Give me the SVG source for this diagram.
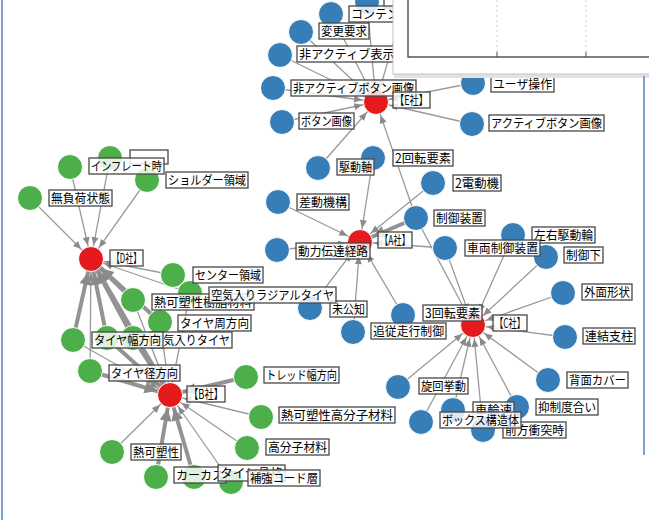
<svg xmlns="http://www.w3.org/2000/svg" width="649" height="520" viewBox="0 0 649 520">
<defs>
<style>
.e{stroke:#9a9a9a;stroke-width:1.3;fill:none;marker-end:url(#ah)}
.t{stroke:#939393;stroke-width:4;fill:none;marker-end:url(#aht)}
.b{fill:#377eb8;stroke:#fff;stroke-width:1}
.g{fill:#4daf4a;stroke:#fff;stroke-width:1}
.r{fill:#e41a1c;stroke:#fff;stroke-width:1}
.lb rect{fill:#fff;fill-opacity:0.82;stroke:#484848;stroke-width:1.3}
.lb text{font-family:"Noto Sans CJK JP","Noto Sans CJK SC",sans-serif;font-size:12.5px;fill:#000}
</style>
<marker id="ah" markerUnits="userSpaceOnUse" viewBox="0 -5 26 10" markerWidth="26" markerHeight="10" refX="26" refY="0" orient="auto"><path d="M4,-3.5 L12,0 L4,3.5 Z" fill="#8a8a8a"/></marker>
<marker id="aht" markerUnits="userSpaceOnUse" viewBox="0 -7 28 14" markerWidth="28" markerHeight="14" refX="28" refY="0" orient="auto"><path d="M2,-6 L14,0 L2,6 Z" fill="#8a8a8a"/></marker>
</defs>
<rect width="649" height="520" fill="#fff"/>
<g id="connectors">
<line class="e" x1="331" y1="14" x2="376" y2="102"/>
<line class="e" x1="367" y1="2" x2="376" y2="102"/>
<line class="e" x1="400" y1="20" x2="376" y2="102"/>
<line class="e" x1="301" y1="32" x2="376" y2="102"/>
<line class="e" x1="280" y1="55" x2="376" y2="102"/>
<line class="e" x1="273" y1="88" x2="376" y2="102"/>
<line class="e" x1="282" y1="122" x2="376" y2="102"/>
<line class="e" x1="473" y1="83" x2="376" y2="102"/>
<line class="e" x1="472" y1="124" x2="376" y2="102"/>
<line class="e" x1="318" y1="168" x2="376" y2="102"/>
<line class="e" x1="416" y1="218" x2="376" y2="102"/>
<line class="e" x1="373" y1="158" x2="360" y2="242"/>
<line class="e" x1="278" y1="202" x2="360" y2="242"/>
<line class="e" x1="433" y1="183" x2="360" y2="242"/>
<line class="t" x1="416" y1="218" x2="360" y2="242"/>
<line class="e" x1="277" y1="250" x2="360" y2="242"/>
<line class="e" x1="445" y1="248" x2="360" y2="242"/>
<line class="e" x1="310" y1="308" x2="360" y2="242"/>
<line class="e" x1="353" y1="332" x2="360" y2="242"/>
<line class="e" x1="403" y1="315" x2="360" y2="242"/>
<line class="e" x1="416" y1="218" x2="473" y2="325"/>
<line class="e" x1="445" y1="248" x2="473" y2="325"/>
<line class="e" x1="513" y1="235" x2="473" y2="325"/>
<line class="e" x1="546" y1="257" x2="473" y2="325"/>
<line class="e" x1="563" y1="293" x2="473" y2="325"/>
<line class="e" x1="565" y1="337" x2="473" y2="325"/>
<line class="e" x1="398" y1="387" x2="473" y2="325"/>
<line class="e" x1="421" y1="422" x2="473" y2="325"/>
<line class="e" x1="453" y1="410" x2="473" y2="325"/>
<line class="e" x1="483" y1="430" x2="473" y2="325"/>
<line class="e" x1="517" y1="407" x2="473" y2="325"/>
<line class="e" x1="548" y1="380" x2="473" y2="325"/>
<line class="e" x1="30" y1="198" x2="91" y2="259"/>
<line class="e" x1="70" y1="167" x2="91" y2="259"/>
<line class="e" x1="110" y1="158" x2="91" y2="259"/>
<line class="e" x1="147" y1="180" x2="91" y2="259"/>
<line class="e" x1="173" y1="275" x2="91" y2="259"/>
<line class="e" x1="90" y1="371" x2="91" y2="259"/>
<line class="e" x1="190" y1="293" x2="91" y2="259"/>
<line class="t" x1="73" y1="340" x2="91" y2="259"/>
<line class="t" x1="107" y1="338" x2="91" y2="259"/>
<line class="t" x1="133" y1="338" x2="91" y2="259"/>
<line class="t" x1="160" y1="322" x2="91" y2="259"/>
<line class="t" x1="133" y1="300" x2="91" y2="259"/>
<line class="t" x1="170" y1="395" x2="91" y2="259"/>
<line class="e" x1="190" y1="293" x2="170" y2="395"/>
<line class="e" x1="133" y1="300" x2="170" y2="395"/>
<line class="e" x1="160" y1="322" x2="170" y2="395"/>
<line class="e" x1="73" y1="340" x2="170" y2="395"/>
<line class="e" x1="261" y1="417" x2="170" y2="395"/>
<line class="e" x1="247" y1="448" x2="170" y2="395"/>
<line class="e" x1="112" y1="452" x2="170" y2="395"/>
<line class="e" x1="231" y1="482" x2="170" y2="395"/>
<line class="t" x1="107" y1="338" x2="170" y2="395"/>
<line class="t" x1="133" y1="338" x2="170" y2="395"/>
<line class="t" x1="90" y1="371" x2="170" y2="395"/>
<line class="t" x1="246" y1="377" x2="170" y2="395"/>
<line class="t" x1="156" y1="477" x2="170" y2="395"/>
<line class="t" x1="194" y1="477" x2="170" y2="395"/>
</g>
<g id="nodes">
<g id="hub-E"><circle class="r" cx="376" cy="102" r="12.5"/></g>
<g id="hub-A"><circle class="r" cx="360" cy="242" r="12.5"/></g>
<g id="hub-C"><circle class="r" cx="473" cy="325" r="12.5"/></g>
<g id="hub-D"><circle class="r" cx="91" cy="259" r="12.5"/></g>
<g id="hub-B"><circle class="r" cx="170" cy="395" r="12.5"/></g>
<g id="n-top"><circle class="b" cx="367" cy="2" r="12.5"/></g>
<g id="n-content"><circle class="b" cx="331" cy="14" r="12.5"/></g>
<g id="n-henkou"><circle class="b" cx="301" cy="32" r="12.5"/></g>
<g id="n-hiactive-hyouji"><circle class="b" cx="280" cy="55" r="12.5"/></g>
<g id="n-hiactive-button"><circle class="b" cx="273" cy="88" r="12.5"/></g>
<g id="n-button"><circle class="b" cx="282" cy="122" r="12.5"/></g>
<g id="n-user"><circle class="b" cx="473" cy="83" r="12.5"/></g>
<g id="n-active-button"><circle class="b" cx="472" cy="124" r="12.5"/></g>
<g id="n-2kaiten"><circle class="b" cx="373" cy="158" r="12.5"/></g>
<g id="n-kudoujiku"><circle class="b" cx="318" cy="168" r="12.5"/></g>
<g id="n-2dendouki"><circle class="b" cx="433" cy="183" r="12.5"/></g>
<g id="n-sadou"><circle class="b" cx="278" cy="202" r="12.5"/></g>
<g id="n-seigyo-souchi"><circle class="b" cx="416" cy="218" r="12.5"/></g>
<g id="n-douryoku"><circle class="b" cx="277" cy="250" r="12.5"/></g>
<g id="n-sharyou"><circle class="b" cx="445" cy="248" r="12.5"/></g>
<g id="n-sayuu"><circle class="b" cx="513" cy="235" r="12.5"/></g>
<g id="n-seigyoka"><circle class="b" cx="546" cy="257" r="12.5"/></g>
<g id="n-gaimen"><circle class="b" cx="563" cy="293" r="12.5"/></g>
<g id="n-renketsu"><circle class="b" cx="565" cy="337" r="12.5"/></g>
<g id="n-mikouchi"><circle class="b" cx="310" cy="308" r="12.5"/></g>
<g id="n-3kaiten"><circle class="b" cx="403" cy="315" r="12.5"/></g>
<g id="n-tsuijuu"><circle class="b" cx="353" cy="332" r="12.5"/></g>
<g id="n-senkai"><circle class="b" cx="398" cy="387" r="12.5"/></g>
<g id="n-zenpou"><circle class="b" cx="483" cy="430" r="12.5"/></g>
<g id="n-sharinsoku"><circle class="b" cx="453" cy="410" r="12.5"/></g>
<g id="n-box"><circle class="b" cx="421" cy="422" r="12.5"/></g>
<g id="n-yokusei"><circle class="b" cx="517" cy="407" r="12.5"/></g>
<g id="n-haimen"><circle class="b" cx="548" cy="380" r="12.5"/></g>
<g id="n-mufuka"><circle class="g" cx="30" cy="198" r="12.5"/></g>
<g id="n-d-hidden"><circle class="g" cx="110" cy="158" r="12.5"/></g>
<g id="n-shoulder"><circle class="g" cx="147" cy="180" r="12.5"/></g>
<g id="n-inflate"><circle class="g" cx="70" cy="167" r="12.5"/></g>
<g id="n-center"><circle class="g" cx="173" cy="275" r="12.5"/></g>
<g id="n-radial"><circle class="g" cx="190" cy="293" r="12.5"/></g>
<g id="n-jushi"><circle class="g" cx="133" cy="300" r="12.5"/></g>
<g id="n-shuu"><circle class="g" cx="160" cy="322" r="12.5"/></g>
<g id="n-g10"><circle class="g" cx="107" cy="338" r="12.5"/></g>
<g id="n-kuuki-tire"><circle class="g" cx="133" cy="338" r="12.5"/></g>
<g id="n-haba"><circle class="g" cx="73" cy="340" r="12.5"/></g>
<g id="n-kei"><circle class="g" cx="90" cy="371" r="12.5"/></g>
<g id="n-tread"><circle class="g" cx="246" cy="377" r="12.5"/></g>
<g id="n-kobunshi-netsu"><circle class="g" cx="261" cy="417" r="12.5"/></g>
<g id="n-kobunshi"><circle class="g" cx="247" cy="448" r="12.5"/></g>
<g id="n-netsukaso"><circle class="g" cx="112" cy="452" r="12.5"/></g>
<g id="n-carcass"><circle class="g" cx="156" cy="477" r="12.5"/></g>
<g id="n-tire-kokkaku"><circle class="g" cx="194" cy="477" r="12.5"/></g>
<g id="n-hokyou"><circle class="g" cx="231" cy="482" r="12.5"/></g>
</g>
<g id="labels" class="lb">
<rect x="384" y="-8" width="50" height="16"/>
<g><rect x="349" y="6" width="64" height="16"/><text x="351" y="18.5" textLength="60" lengthAdjust="spacingAndGlyphs">コンテンツ</text></g>
<g><rect x="319" y="23" width="50" height="16"/><text x="321" y="35.5" textLength="46" lengthAdjust="spacingAndGlyphs">変更要求</text></g>
<g><rect x="297" y="46" width="124" height="16"/><text x="299" y="58.5" textLength="120" lengthAdjust="spacingAndGlyphs">非アクティブ表示領域</text></g>
<g><rect x="291" y="80" width="125" height="16"/><text x="293" y="92.5" textLength="121" lengthAdjust="spacingAndGlyphs">非アクティブボタン画像</text></g>
<g><rect x="299" y="113" width="55" height="16"/><text x="301" y="125.5" textLength="51" lengthAdjust="spacingAndGlyphs">ボタン画像</text></g>
<g><rect x="393" y="92" width="37" height="16"/><text x="395" y="104.5" textLength="33" lengthAdjust="spacingAndGlyphs">【E社】</text></g>
<g><rect x="491" y="76" width="63" height="16"/><text x="493" y="88.5" textLength="59" lengthAdjust="spacingAndGlyphs">ユーザ操作</text></g>
<g><rect x="489" y="115" width="115" height="16"/><text x="491" y="127.5" textLength="111" lengthAdjust="spacingAndGlyphs">アクティブボタン画像</text></g>
<g><rect x="393" y="150" width="60" height="16"/><text x="395" y="162.5" textLength="56" lengthAdjust="spacingAndGlyphs">2回転要素</text></g>
<g><rect x="337" y="159" width="37" height="16"/><text x="339" y="171.5" textLength="33" lengthAdjust="spacingAndGlyphs">駆動軸</text></g>
<g><rect x="453" y="175" width="48" height="16"/><text x="455" y="187.5" textLength="44" lengthAdjust="spacingAndGlyphs">2電動機</text></g>
<g><rect x="297" y="194" width="52" height="16"/><text x="299" y="206.5" textLength="48" lengthAdjust="spacingAndGlyphs">差動機構</text></g>
<g><rect x="434" y="210" width="51" height="16"/><text x="436" y="222.5" textLength="47" lengthAdjust="spacingAndGlyphs">制御装置</text></g>
<g><rect x="378" y="232" width="34" height="16"/><text x="380" y="244.5" textLength="30" lengthAdjust="spacingAndGlyphs">【A社】</text></g>
<g><rect x="296" y="243" width="74" height="16"/><text x="298" y="255.5" textLength="70" lengthAdjust="spacingAndGlyphs">動力伝達経路</text></g>
<g><rect x="532" y="227" width="63" height="16"/><text x="534" y="239.5" textLength="59" lengthAdjust="spacingAndGlyphs">左右駆動輪</text></g>
<g><rect x="564" y="247" width="39" height="16"/><text x="566" y="259.5" textLength="35" lengthAdjust="spacingAndGlyphs">制御下</text></g>
<g><rect x="465" y="240" width="75" height="16"/><text x="467" y="252.5" textLength="71" lengthAdjust="spacingAndGlyphs">車両制御装置</text></g>
<g><rect x="582" y="284" width="50" height="16"/><text x="584" y="296.5" textLength="46" lengthAdjust="spacingAndGlyphs">外面形状</text></g>
<g><rect x="583" y="328" width="52" height="16"/><text x="585" y="340.5" textLength="48" lengthAdjust="spacingAndGlyphs">連結支柱</text></g>
<g><rect x="330" y="301" width="37" height="16"/><text x="332" y="313.5" textLength="33" lengthAdjust="spacingAndGlyphs">未公知</text></g>
<g><rect x="423" y="305" width="59" height="16"/><text x="425" y="317.5" textLength="55" lengthAdjust="spacingAndGlyphs">3回転要素</text></g>
<g><rect x="493" y="315" width="34" height="16"/><text x="495" y="327.5" textLength="30" lengthAdjust="spacingAndGlyphs">【C社】</text></g>
<g><rect x="371" y="323" width="75" height="16"/><text x="373" y="335.5" textLength="71" lengthAdjust="spacingAndGlyphs">追従走行制御</text></g>
<g><rect x="419" y="378" width="49" height="16"/><text x="421" y="390.5" textLength="45" lengthAdjust="spacingAndGlyphs">旋回挙動</text></g>
<g><rect x="503" y="422" width="63" height="16"/><text x="505" y="434.5" textLength="59" lengthAdjust="spacingAndGlyphs">前方衝突時</text></g>
<g><rect x="473" y="402" width="41" height="16"/><text x="475" y="414.5" textLength="37" lengthAdjust="spacingAndGlyphs">車輪速</text></g>
<g><rect x="440" y="412" width="81" height="16"/><text x="442" y="424.5" textLength="77" lengthAdjust="spacingAndGlyphs">ボックス構造体</text></g>
<g><rect x="536" y="399" width="62" height="16"/><text x="538" y="411.5" textLength="58" lengthAdjust="spacingAndGlyphs">抑制度合い</text></g>
<g><rect x="567" y="372" width="61" height="16"/><text x="569" y="384.5" textLength="57" lengthAdjust="spacingAndGlyphs">背面カバー</text></g>
<rect x="130" y="150" width="38" height="14"/>
<g><rect x="89" y="158" width="75" height="16"/><text x="91" y="170.5" textLength="71" lengthAdjust="spacingAndGlyphs">インフレート時</text></g>
<g><rect x="49" y="190" width="63" height="16"/><text x="51" y="202.5" textLength="59" lengthAdjust="spacingAndGlyphs">無負荷状態</text></g>
<g><rect x="166" y="172" width="82" height="16"/><text x="168" y="184.5" textLength="78" lengthAdjust="spacingAndGlyphs">ショルダー領域</text></g>
<g><rect x="110" y="250" width="33" height="16"/><text x="112" y="262.5" textLength="29" lengthAdjust="spacingAndGlyphs">【D社】</text></g>
<g><rect x="193" y="267" width="70" height="16"/><text x="195" y="279.5" textLength="66" lengthAdjust="spacingAndGlyphs">センター領域</text></g>
<g><rect x="152" y="294" width="102" height="16"/><text x="154" y="306.5" textLength="98" lengthAdjust="spacingAndGlyphs">熱可塑性樹脂材料</text></g>
<g><rect x="209" y="287" width="127" height="16"/><text x="211" y="299.5" textLength="123" lengthAdjust="spacingAndGlyphs">空気入りラジアルタイヤ</text></g>
<g><rect x="178" y="315" width="73" height="16"/><text x="180" y="327.5" textLength="69" lengthAdjust="spacingAndGlyphs">タイヤ周方向</text></g>
<g><rect x="150" y="332" width="82" height="16"/><text x="152" y="344.5" textLength="78" lengthAdjust="spacingAndGlyphs">空気入りタイヤ</text></g>
<g><rect x="92" y="332" width="71" height="16"/><text x="94" y="344.5" textLength="67" lengthAdjust="spacingAndGlyphs">タイヤ幅方向</text></g>
<g><rect x="109" y="365" width="71" height="16"/><text x="111" y="377.5" textLength="67" lengthAdjust="spacingAndGlyphs">タイヤ径方向</text></g>
<g><rect x="187" y="386" width="38" height="16"/><text x="189" y="398.5" textLength="34" lengthAdjust="spacingAndGlyphs">【B社】</text></g>
<g><rect x="264" y="367" width="75" height="16"/><text x="266" y="379.5" textLength="71" lengthAdjust="spacingAndGlyphs">トレッド幅方向</text></g>
<g><rect x="279" y="407" width="116" height="16"/><text x="281" y="419.5" textLength="112" lengthAdjust="spacingAndGlyphs">熱可塑性高分子材料</text></g>
<g><rect x="266" y="439" width="63" height="16"/><text x="268" y="451.5" textLength="59" lengthAdjust="spacingAndGlyphs">高分子材料</text></g>
<g><rect x="131" y="444" width="50" height="16"/><text x="133" y="456.5" textLength="46" lengthAdjust="spacingAndGlyphs">熱可塑性</text></g>
<g><rect x="174" y="467" width="52" height="16"/><text x="176" y="479.5" textLength="48" lengthAdjust="spacingAndGlyphs">カーカス</text></g>
<g><rect x="218" y="465" width="67" height="16"/><text x="220" y="477.5" textLength="63" lengthAdjust="spacingAndGlyphs">タイヤ骨格</text></g>
<g><rect x="248" y="470" width="72" height="16"/><text x="250" y="482.5" textLength="68" lengthAdjust="spacingAndGlyphs">補強コード層</text></g>
</g>
<g id="panel">
<line x1="394" y1="76" x2="649" y2="76" stroke="#e2e2e2" stroke-width="4"/>
<rect x="393" y="-2" width="258" height="76" fill="#fff" stroke="#c4c4c4" stroke-width="1"/>
<line x1="497" y1="0" x2="497" y2="52" stroke="#cfcfcf" stroke-width="1" stroke-dasharray="2,3"/>
<line x1="586" y1="0" x2="586" y2="52" stroke="#cfcfcf" stroke-width="1" stroke-dasharray="2,3"/>
<line x1="497" y1="52" x2="497" y2="57" stroke="#666" stroke-width="1.2"/>
<line x1="586" y1="52" x2="586" y2="57" stroke="#666" stroke-width="1.2"/>
<path d="M408,0 V57 H649" fill="none" stroke="#555" stroke-width="1.5"/>
</g>
<g id="frame">
<line x1="2" y1="0" x2="2" y2="520" stroke="#7f9fd8" stroke-width="2"/>
<line x1="644" y1="76" x2="644" y2="455" stroke="#7f9fd8" stroke-width="2"/>
</g>
</svg>
